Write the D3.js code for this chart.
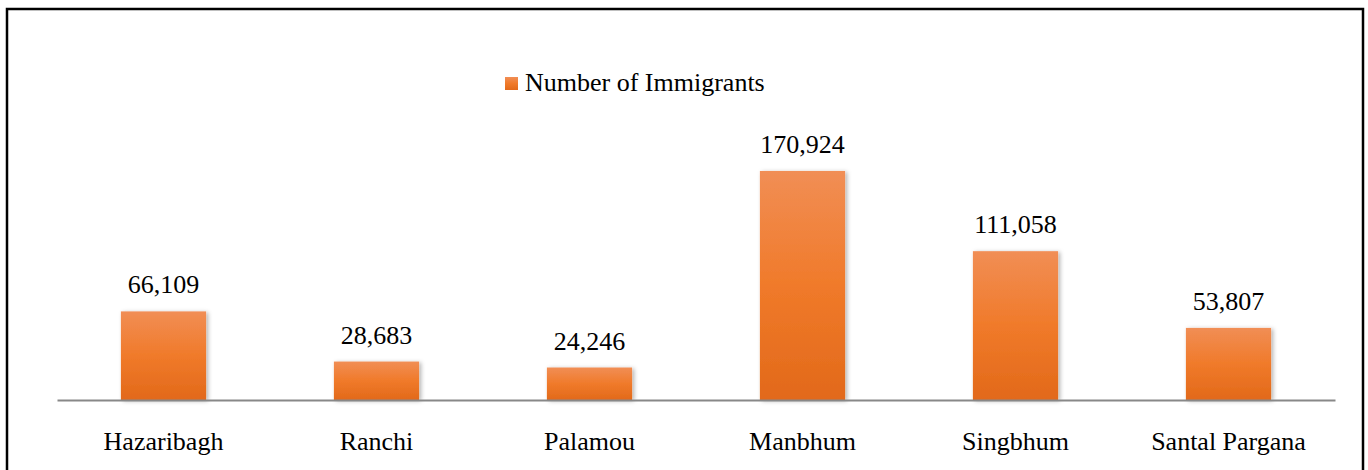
<!DOCTYPE html>
<html><head><meta charset="utf-8">
<script src="https://cdn.jsdelivr.net/npm/d3@7"></script>
<style>body{margin:0;background:#fff;} svg{display:block;}</style>
</head><body>
<svg id="c" width="1368" height="470"></svg>
<script>
const categories = ["Hazaribagh","Ranchi","Palamou","Manbhum","Singbhum","Santal Pargana"];
const values = [66109, 28683, 24246, 170924, 111058, 53807];
const seriesName = "Number of Immigrants";

const FONT = '"Liberation Serif", "Times New Roman", serif';
const svg = d3.select("#c");
const defs = svg.append("defs");
const g = defs.append("linearGradient").attr("id","bg").attr("x1",0).attr("y1",0).attr("x2",0).attr("y2",1);
g.append("stop").attr("offset","0%").attr("stop-color","#F18E55");
g.append("stop").attr("offset","50%").attr("stop-color","#F07A2A");
g.append("stop").attr("offset","100%").attr("stop-color","#E2691A");
const f = defs.append("filter").attr("id","sh").attr("x","-20%").attr("y","-20%").attr("width","150%").attr("height","150%");
f.append("feDropShadow").attr("dx",2).attr("dy",1).attr("stdDeviation",2).attr("flood-color","#000").attr("flood-opacity",0.3);

svg.append("rect").attr("x",7).attr("y",9).attr("width",1356).attr("height",470)
  .attr("fill","none").attr("stroke","#000").attr("stroke-width",2.5);

const x = d3.scaleBand().domain(categories).range([57,1335]).paddingInner(0.6).paddingOuter(0.3);
const y = d3.scaleLinear().domain([0,200000]).range([400,132]);

svg.append("g").selectAll("rect").data(values).join("rect")
  .attr("x",(d,i)=>x(categories[i])).attr("width",x.bandwidth())
  .attr("y",d=>y(d)).attr("height",d=>y(0)-y(d))
  .attr("fill","url(#bg)").attr("filter","url(#sh)");

svg.append("g").selectAll("text").data(values).join("text")
  .attr("x",(d,i)=>x(categories[i])+x.bandwidth()/2).attr("y",d=>y(d)-18)
  .attr("text-anchor","middle").style("font-family",FONT).style("font-size","26px").attr("fill","#000")
  .text(d=>d3.format(",")(d));

const ax = svg.append("g").attr("transform","translate(0,400)").call(d3.axisBottom(x).tickSize(0).tickPadding(0));
ax.attr("font-family",null).attr("font-size",null);
ax.select(".domain").attr("stroke","#888").attr("stroke-width",2);
ax.selectAll("text").style("font-family",FONT).style("font-size","26px").attr("fill","#000").attr("dy",0).attr("y",50);

svg.append("rect").attr("x",505).attr("y",77).attr("width",13).attr("height",13).attr("fill","url(#bg)");
svg.append("text").attr("x",525).attr("y",91).style("font-family",FONT).style("font-size","26px").attr("fill","#000").text(seriesName);
</script>
</body></html>
